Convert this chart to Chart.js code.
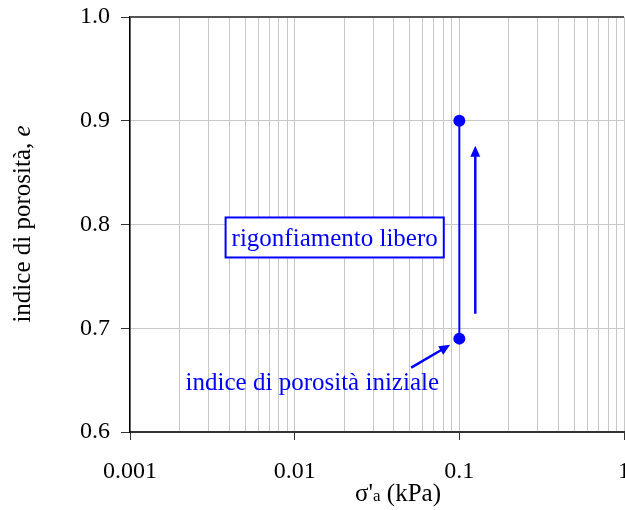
<!DOCTYPE html>
<html>
<head>
<meta charset="utf-8">
<script src="https://cdn.jsdelivr.net/npm/chart.js@4.4.0/dist/chart.umd.min.js"></script>
<style>
  html, body { margin: 0; padding: 0; background: #fff; overflow: hidden; }
  #wrap { width: 625px; height: 510px; overflow: hidden; }
</style>
</head>
<body>
<div id="wrap"><canvas id="chart" width="660" height="510"></canvas></div>
<script>
// dati: pressione verticale efficace vs indice dei vuoti
const stress = [0.1, 0.1];
const voidRatio = [0.69, 0.90];
const xDecades = [0.001, 0.01, 0.1, 1];
const yTicks = [0.6, 0.7, 0.8, 0.9, 1.0];

// annotazioni (in unità dei dati)
const swellArrowX = [0.125, 0.125];
const swellArrowY = [0.714, 0.876];
const initArrowX = [0.051, 0.088];
const initArrowY = [0.662, 0.684];
const initLabel = { x: 0.0128, y: 0.6472, text: 'indice di porosità iniziale' };
const boxLabel = { x: 0.0175, y: 0.7875, text: 'rigonfiamento libero' };

const BLUE = '#0000ff';
const SERIF = '"Liberation Serif", "Times New Roman", serif';
const TXT = 25;

// tutti i tick 1..9 per ogni decade
function logTicks() {
  const out = [];
  for (let d = 0; d < xDecades.length; d++) {
    for (let m = 1; m <= 9; m++) {
      const v = xDecades[d] * m;
      if (v <= xDecades[xDecades.length - 1] + 1e-9) out.push(v);
    }
  }
  return out;
}
function isDecade(v) {
  return xDecades.some(d => Math.abs(v - d) / d < 1e-6);
}

function drawArrow(ctx, x1, y1, x2, y2, width, head) {
  const ang = Math.atan2(y2 - y1, x2 - x1);
  ctx.save();
  ctx.strokeStyle = BLUE;
  ctx.fillStyle = BLUE;
  ctx.lineWidth = width;
  ctx.beginPath();
  ctx.moveTo(x1, y1);
  ctx.lineTo(x2 - Math.cos(ang) * head * 0.8, y2 - Math.sin(ang) * head * 0.8);
  ctx.stroke();
  ctx.beginPath();
  ctx.moveTo(x2, y2);
  ctx.lineTo(x2 - head * Math.cos(ang) + head * 0.45 * Math.sin(ang), y2 - head * Math.sin(ang) - head * 0.45 * Math.cos(ang));
  ctx.lineTo(x2 - head * Math.cos(ang) - head * 0.45 * Math.sin(ang), y2 - head * Math.sin(ang) + head * 0.45 * Math.cos(ang));
  ctx.closePath();
  ctx.fill();
  ctx.restore();
}

const extras = {
  id: 'extras',
  afterDraw(chart) {
    const ctx = chart.ctx;
    const xs = chart.scales.x, ys = chart.scales.y;
    const area = chart.chartArea;

    // bordo superiore
    ctx.save();
    ctx.strokeStyle = '#555';
    ctx.lineWidth = 2;
    ctx.beginPath();
    ctx.moveTo(area.left, area.top);
    ctx.lineTo(area.right, area.top);
    ctx.stroke();
    ctx.restore();

    // freccia rigonfiamento
    drawArrow(ctx, xs.getPixelForValue(swellArrowX[0]), ys.getPixelForValue(swellArrowY[0]),
      xs.getPixelForValue(swellArrowX[1]), ys.getPixelForValue(swellArrowY[1]), 2.5, 11);
    // freccia indice iniziale
    drawArrow(ctx, xs.getPixelForValue(initArrowX[0]), ys.getPixelForValue(initArrowY[0]),
      xs.getPixelForValue(initArrowX[1]), ys.getPixelForValue(initArrowY[1]), 2.5, 11);

    ctx.save();
    ctx.fillStyle = BLUE;
    ctx.font = TXT + 'px ' + SERIF;
    ctx.textAlign = 'center';
    ctx.textBaseline = 'middle';
    ctx.fillText(initLabel.text, xs.getPixelForValue(initLabel.x), ys.getPixelForValue(initLabel.y));

    // etichetta con riquadro
    const bx = xs.getPixelForValue(boxLabel.x), by = ys.getPixelForValue(boxLabel.y);
    const w = ctx.measureText(boxLabel.text).width;
    ctx.fillStyle = '#fff';
    ctx.fillRect(bx - w / 2 - 6, by - 20, w + 12, 40);
    ctx.strokeStyle = BLUE;
    ctx.lineWidth = 2;
    ctx.strokeRect(bx - w / 2 - 6, by - 20, w + 12, 40);
    ctx.fillStyle = BLUE;
    ctx.fillText(boxLabel.text, bx, by + 2);
    ctx.restore();

    // titoli degli assi
    ctx.save();
    ctx.fillStyle = '#000';
    ctx.textBaseline = 'middle';
    // asse x: σ'a (kPa)
    const big = TXT + 'px ' + SERIF, small = '17px ' + SERIF;
    ctx.font = big;
    const w1 = ctx.measureText("σ'").width;
    const w3 = ctx.measureText(' (kPa)').width;
    ctx.font = small;
    const w2 = ctx.measureText('a').width;
    let tx = 398 - (w1 + w2 + w3) / 2;
    const ty = 494;
    ctx.textAlign = 'left';
    ctx.font = big; ctx.fillText("σ'", tx, ty); tx += w1;
    ctx.font = small; ctx.fillText('a', tx, ty + 3); tx += w2;
    ctx.font = big; ctx.fillText(' (kPa)', tx, ty);

    // asse y: indice di porosità, e
    ctx.translate(23, 224);
    ctx.rotate(-Math.PI / 2);
    const part1 = 'indice di porosità, ';
    ctx.font = big;
    const p1 = ctx.measureText(part1).width;
    ctx.font = 'italic ' + TXT + 'px ' + SERIF;
    const p2 = ctx.measureText('e').width;
    let ox = -(p1 + p2) / 2;
    ctx.font = big; ctx.fillText(part1, ox, 0);
    ctx.font = 'italic ' + TXT + 'px ' + SERIF; ctx.fillText('e', ox + p1, 0);
    ctx.restore();
  }
};

const ctx = document.getElementById('chart').getContext('2d');
const chart = new Chart(ctx, {
  type: 'scatter',
  data: {
    datasets: [{
      data: stress.map((s, i) => ({ x: s, y: voidRatio[i] })),
      showLine: true,
      borderColor: BLUE,
      backgroundColor: BLUE,
      borderWidth: 2,
      pointRadius: 6,
      pointBorderWidth: 0
    }]
  },
  options: {
    responsive: false,
    animation: false,
    layout: { padding: { left: 0, right: 36, top: 0, bottom: 0 } },
    plugins: { legend: { display: false }, tooltip: { enabled: false } },
    scales: {
      x: {
        type: 'logarithmic',
        min: xDecades[0],
        max: xDecades[xDecades.length - 1],
        afterBuildTicks: scale => { scale.ticks = logTicks().map(v => ({ value: v })); },
        afterFit: scale => { scale.height = 78; },
        ticks: {
          autoSkip: false,
          maxRotation: 0,
          padding: 17,
          color: '#000',
          font: { family: SERIF, size: 24 },
          callback: v => isDecade(v) ? String(v) : ''
        },
        grid: {
          color: '#c8c8c8',
          lineWidth: 1,
          tickLength: 8,
          tickColor: c => (c.tick && isDecade(c.tick.value)) ? '#333' : 'rgba(0,0,0,0)'
        },
        border: { color: '#333', width: 2 }
      },
      y: {
        min: 0.6,
        max: 1.0,
        afterBuildTicks: scale => { scale.ticks = yTicks.map(v => ({ value: v })); },
        afterFit: scale => { scale.width = 130; },
        ticks: {
          padding: 11,
          color: '#000',
          font: { family: SERIF, size: 24, lineHeight: 0.5 },
          callback: v => Number(v).toFixed(1)
        },
        grid: {
          color: '#c8c8c8',
          lineWidth: 1,
          tickLength: 9,
          tickColor: '#333'
        },
        border: { color: '#000', width: 1.5 }
      }
    }
  },
  plugins: [extras]
});
</script>
</body>
</html>
